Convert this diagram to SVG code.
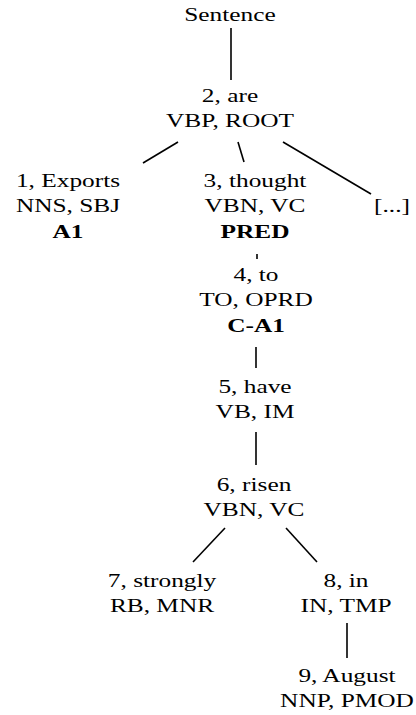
<svg xmlns="http://www.w3.org/2000/svg" width="416" height="715" viewBox="0 0 416 715">
<style>
text{font-family:"Liberation Serif","Times New Roman",serif;font-size:19.5px;fill:#000;text-anchor:middle}
.b{font-weight:bold}
#edges line{stroke:#000;stroke-width:1.6}
</style>
<rect width="416" height="715" fill="#fff"/>
<g id="edges">
<line x1="231" y1="28" x2="231" y2="80"/>
<line x1="178" y1="142" x2="143" y2="163"/>
<line x1="238" y1="142" x2="244" y2="162"/>
<line x1="283" y1="142" x2="371" y2="194"/>
<line x1="257" y1="254" x2="257" y2="259"/>
<line x1="256" y1="347" x2="256" y2="368"/>
<line x1="256" y1="432" x2="256" y2="465"/>
<line x1="225" y1="528" x2="193" y2="562"/>
<line x1="286" y1="528" x2="317" y2="562"/>
<line x1="347" y1="623" x2="347" y2="658"/>
</g>
<g id="sentence" transform="translate(230,0) scale(1.3,1)"><text x="0" y="21">Sentence</text></g>
<g id="n2" transform="translate(230,0) scale(1.3,1)"><text x="0" y="102">2, are</text><text x="0" y="127.5">VBP, ROOT</text></g>
<g id="n1" transform="translate(68,0) scale(1.3,1)"><text x="0" y="187">1, Exports</text><text x="0" y="212.5">NNS, SBJ</text><text class="b" x="0" y="238">A1</text></g>
<g id="n3" transform="translate(255,0) scale(1.3,1)"><text x="0" y="187">3, thought</text><text x="0" y="212.5">VBN, VC</text><text class="b" x="0" y="238">PRED</text></g>
<g id="more" transform="translate(392,0) scale(1.3,1)"><text x="0" y="212.5">[...]</text></g>
<g id="n4" transform="translate(256,0) scale(1.3,1)"><text x="0" y="281">4, to</text><text x="0" y="306.5">TO, OPRD</text><text class="b" x="0" y="332">C-A1</text></g>
<g id="n5" transform="translate(255,0) scale(1.3,1)"><text x="0" y="393">5, have</text><text x="0" y="418.5">VB, IM</text></g>
<g id="n6" transform="translate(254,0) scale(1.3,1)"><text x="0" y="491">6, risen</text><text x="0" y="516.5">VBN, VC</text></g>
<g id="n7" transform="translate(162,0) scale(1.3,1)"><text x="0" y="587">7, strongly</text><text x="0" y="612">RB, MNR</text></g>
<g id="n8" transform="translate(346,0) scale(1.3,1)"><text x="0" y="587">8, in</text><text x="0" y="612">IN, TMP</text></g>
<g id="n9" transform="translate(347,0) scale(1.3,1)"><text x="0" y="682">9, August</text><text x="0" y="707.5">NNP, PMOD</text></g>
</svg>
